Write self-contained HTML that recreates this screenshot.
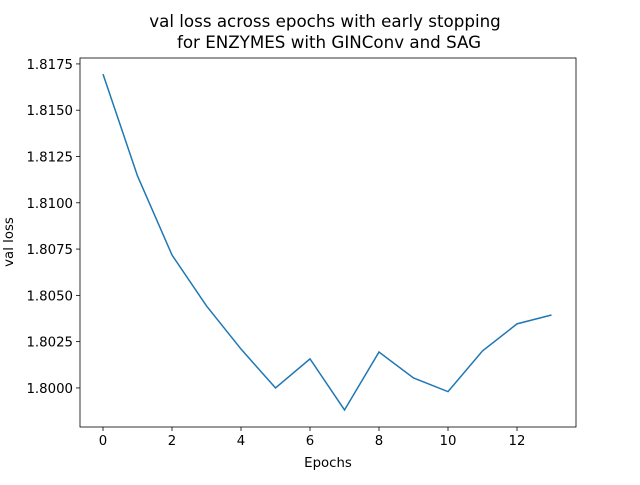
<!DOCTYPE html>
<html><head><meta charset="utf-8"><style>
body{margin:0;background:#fff;}
svg text{font-family:"DejaVu Sans","Liberation Sans",sans-serif;fill:#000;}
</style></head><body>
<svg id="chart" width="640" height="480" xmlns="http://www.w3.org/2000/svg">
<rect width="640" height="480" fill="#fff"/>
<text x="325" y="27" font-size="16.7" text-anchor="middle">val loss across epochs with early stopping</text>
<text x="329" y="48" font-size="16.7" text-anchor="middle">for ENZYMES with GINConv and SAG</text>
<g id="axes"></g>
<text x="328" y="467" font-size="13.3" text-anchor="middle">Epochs</text>
<text transform="translate(13,242) rotate(-90)" font-size="13.3" text-anchor="middle">val loss</text>
</svg>
<script>
const epochs=[0,1,2,3,4,5,6,7,8,9,10,11,12,13];
const valLoss=[1.81695,1.81145,1.80718,1.80443,1.8021,1.8000,1.80157,1.79881,1.80194,1.80054,1.7998,1.802,1.80346,1.80394];
const xTicks=[0,2,4,6,8,10,12];
const yTicks=[1.8000,1.8025,1.8050,1.8075,1.8100,1.8125,1.8150,1.8175];
const L=80,R=576,T=58,B=427;
const xMin=-0.667,xMax=13.71,yMin=1.79789,yMax=1.81782;
const xs=v=>L+(v-xMin)/(xMax-xMin)*(R-L);
const ys=v=>B-(v-yMin)/(yMax-yMin)*(B-T);
const NS="http://www.w3.org/2000/svg";
const g=document.getElementById('axes');
function mk(t,a){const e=document.createElementNS(NS,t);for(const k in a)e.setAttribute(k,a[k]);g.appendChild(e);return e;}
xTicks.forEach(v=>{
 const l=mk('line',{x1:xs(v),x2:xs(v),y1:B,y2:B+4,stroke:'#000','stroke-width':0.8});
 
 
 const t=mk('text',{x:xs(v),y:B+18,'font-size':13.3,'text-anchor':'middle'});t.textContent=v;
 
 
});
yTicks.forEach(v=>{
 const l=mk('line',{x1:L-4,x2:L,y1:ys(v),y2:ys(v),stroke:'#000','stroke-width':0.8});
 
 
 const t=mk('text',{x:L-7,y:ys(v)+5,'font-size':13.3,'text-anchor':'end'});t.textContent=v.toFixed(4);
 
 
});
const p=mk('polyline',{points:epochs.map((e,i)=>xs(e)+','+ys(valLoss[i])).join(' '),fill:'none',stroke:'#1f77b4','stroke-width':1.5});


const f=mk('rect',{x:L,y:T,width:R-L,height:B-T,fill:'none',stroke:'#000','stroke-width':0.8});


</script>
</body></html>
